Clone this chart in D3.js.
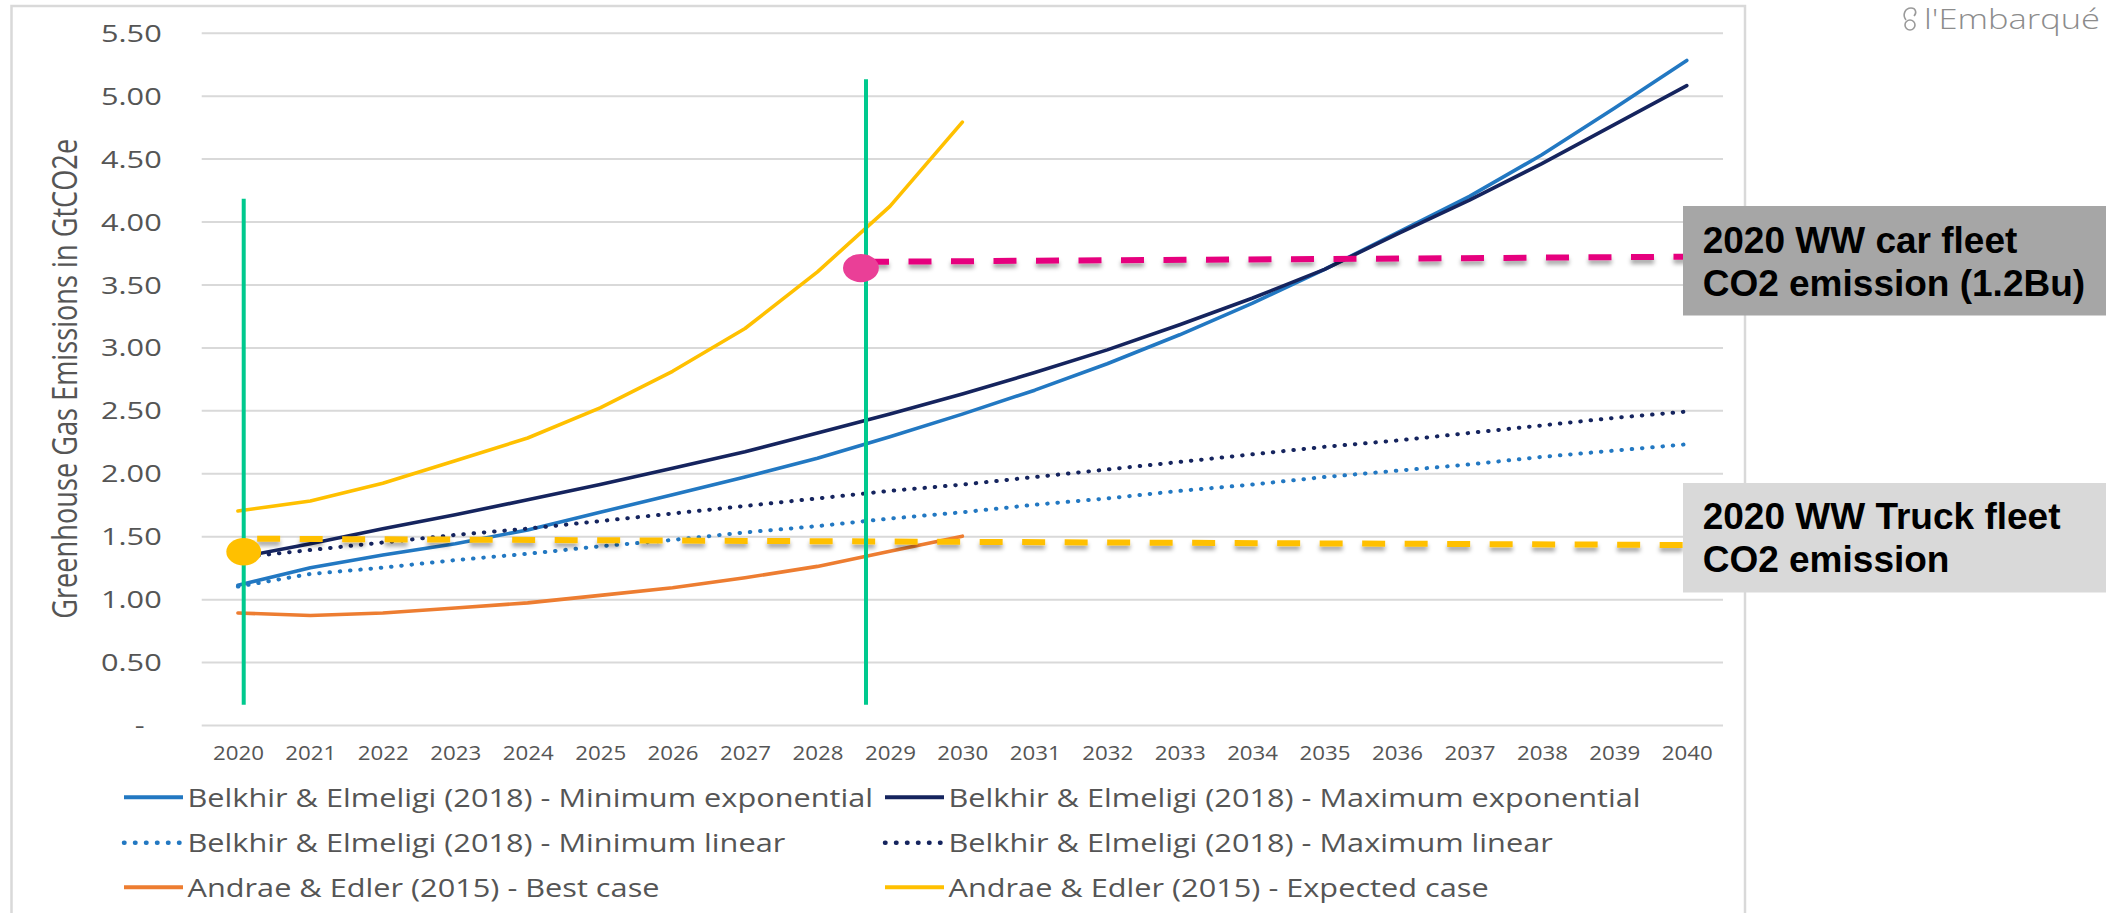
<!DOCTYPE html>
<html>
<head>
<meta charset="utf-8">
<script src="https://cdn.jsdelivr.net/npm/d3@7"></script>
<style>
  html, body { margin: 0; padding: 0; background: #fff; overflow: hidden; }
</style>
</head>
<body>
<svg id="chart" width="2106" height="913"></svg>
<script>
// ---- Data -------------------------------------------------------------
const years = [2020, 2021, 2022, 2023, 2024, 2025, 2026, 2027, 2028, 2029, 2030,
               2031, 2032, 2033, 2034, 2035, 2036, 2037, 2038, 2039, 2040];
const andraeYears = [2020, 2021, 2022, 2023, 2024, 2025, 2026, 2027, 2028, 2029, 2030];

const minExponential = [1.11, 1.25, 1.35, 1.44, 1.55, 1.69, 1.83, 1.97, 2.12, 2.29, 2.47,
                        2.66, 2.87, 3.10, 3.35, 3.62, 3.91, 4.20, 4.53, 4.90, 5.28];
const maxExponential = [1.33, 1.44, 1.56, 1.67, 1.79, 1.91, 2.04, 2.17, 2.32, 2.47, 2.63,
                        2.80, 2.98, 3.18, 3.39, 3.62, 3.90, 4.17, 4.46, 4.77, 5.08];
const minLinear      = [1.10, 1.20, 1.25, 1.31, 1.36, 1.42, 1.47, 1.53, 1.58, 1.64, 1.69,
                        1.75, 1.80, 1.86, 1.91, 1.97, 2.02, 2.07, 2.13, 2.18, 2.23];
const maxLinear      = [1.33, 1.39, 1.45, 1.51, 1.56, 1.62, 1.68, 1.74, 1.80, 1.86, 1.91,
                        1.97, 2.03, 2.09, 2.15, 2.21, 2.26, 2.32, 2.38, 2.44, 2.49];
const bestCase       = [0.89, 0.87, 0.89, 0.93, 0.97, 1.03, 1.09, 1.17, 1.26, 1.38, 1.50];
const expectedCase   = [1.70, 1.78, 1.92, 2.10, 2.28, 2.52, 2.81, 3.15, 3.60, 4.12, 4.79];

const seriesNames = [
  "Belkhir & Elmeligi (2018) - Minimum exponential",
  "Belkhir & Elmeligi (2018) - Maximum exponential",
  "Belkhir & Elmeligi (2018) - Minimum linear",
  "Belkhir & Elmeligi (2018) - Maximum linear",
  "Andrae & Edler (2015) - Best case",
  "Andrae & Edler (2015) - Expected case"
];

const yTicks = [0, 0.5, 1, 1.5, 2, 2.5, 3, 3.5, 4, 4.5, 5, 5.5];
const yTitle = "Greenhouse Gas Emissions in GtCO2e";

// Reference guides: fleet emissions (start / end values of the dashed guide)
const carFleetGuide   = [3.68, 3.72];
const truckFleetGuide = [1.48, 1.43];
const carFleetDot   = { year: 2028.6,  value: 3.63 };
const truckFleetDot = { year: 2020.08, value: 1.376 };
const markerYears  = [2020.08, 2028.67];
const markerTops   = [4.18, 5.13];
const markerBottom = 0.16;

const carLabel   = ["2020 WW car fleet", "CO2 emission (1.2Bu)"];
const truckLabel = ["2020 WW Truck fleet", "CO2 emission"];
const brand = "l'Embarqué";

// ---- Styles -----------------------------------------------------------
const FONT = "'Open Sans', 'Noto Sans', 'DejaVu Sans', sans-serif";
const TEXT_GREY = "#555555";
const GRID = "#d9d9d9";
const styles = [
  { color: "#2278c2", dash: null },
  { color: "#15245e", dash: null },
  { color: "#2278c2", dash: "0.5 9.8" },
  { color: "#15245e", dash: "0.5 9.8" },
  { color: "#ed7d31", dash: null },
  { color: "#ffc000", dash: null }
];

const series = [
  { xs: years, ys: minExponential },
  { xs: years, ys: maxExponential },
  { xs: years, ys: minLinear },
  { xs: years, ys: maxLinear },
  { xs: andraeYears, ys: bestCase },
  { xs: andraeYears, ys: expectedCase }
].map((s, i) => ({
  name: seriesNames[i],
  style: styles[i],
  points: s.xs.map((yr, j) => ({ year: yr, value: s.ys[j] }))
}));

// ---- Layout -----------------------------------------------------------
const svg = d3.select("#chart");
const plotLeft = 201.7, plotRight = 1723, plotTop = 32.7, plotBottom = 725;

const x = d3.scaleLinear().domain([2019.5, 2040.5]).range([plotLeft, plotRight]);
const y = d3.scaleLinear().domain([0, 5.5]).range([plotBottom, plotTop]);

const defs = svg.append("defs");
const shadow = defs.append("filter").attr("id", "dashShadow")
  .attr("x", "-5%").attr("y", "-200%").attr("width", "110%").attr("height", "500%");
shadow.append("feDropShadow").attr("dx", 0).attr("dy", 4).attr("stdDeviation", 2)
  .attr("flood-color", "#000").attr("flood-opacity", 0.35);

// chart-area frame
svg.append("rect")
  .attr("x", 11.5).attr("y", 6).attr("width", 1745 - 11.5).attr("height", 960)
  .attr("fill", "#fff").attr("stroke", "#d9d9d9").attr("stroke-width", 2.5);

// horizontal scale factor that widens a text node to a target width
function widthScale(node, target) {
  const w = node.getComputedTextLength();
  return w > 0 ? target / w : 1;
}

// ---- Y axis with gridlines -------------------------------------------
const yAxis = d3.axisLeft(y)
  .tickValues(yTicks)
  .tickSize(-(plotRight - plotLeft))
  .tickPadding(0)
  .tickFormat(d => d === 0 ? "-" : d3.format(".2f")(d));

const gy = svg.append("g").attr("transform", `translate(${plotLeft},0)`).call(yAxis);
gy.select(".domain").remove();
gy.selectAll(".tick line").attr("stroke", GRID).attr("stroke-width", 2);
const yText = gy.selectAll(".tick text")
  .attr("font-family", FONT).attr("font-size", 24).attr("font-weight", 500).attr("fill", TEXT_GREY)
  .attr("x", 0).attr("dy", null).attr("text-anchor", "end");
const ySx = widthScale(gy.select(".tick:last-of-type text").node(), 60.7);
yText.attr("transform", d => d === 0
    ? `translate(-57,8.6) scale(${ySx},1)`
    : `translate(-40,8.6) scale(${ySx},1)`);

// ---- X axis -------------------------------------------------------------
const xAxis = d3.axisBottom(x).tickValues(years).tickSize(0).tickPadding(0)
  .tickFormat(d3.format("d"));
const gx = svg.append("g").attr("transform", `translate(0,${plotBottom})`).call(xAxis);
gx.select(".domain").remove();
const xText = gx.selectAll(".tick text")
  .attr("font-family", FONT).attr("font-size", 19.6).attr("font-weight", 500).attr("fill", TEXT_GREY)
  .attr("y", 0).attr("dy", null);
const xSx = widthScale(xText.node(), 51);
xText.attr("transform", `translate(0,35) scale(${xSx},1)`);

// ---- Axis title -------------------------------------------------------
svg.append("text")
  .attr("transform", `translate(77,${(plotTop + plotBottom) / 2}) rotate(-90) scale(1,1.4)`)
  .attr("text-anchor", "middle")
  .attr("font-family", FONT).attr("font-size", 25).attr("font-weight", 500).attr("fill", TEXT_GREY)
  .attr("textLength", 480).attr("lengthAdjust", "spacingAndGlyphs")
  .text(yTitle);

// ---- Series ------------------------------------------------------------
const line = d3.line().x(d => x(d.year)).y(d => y(d.value));
svg.append("g").selectAll("path").data(series).join("path")
  .attr("d", d => line(d.points))
  .attr("fill", "none")
  .attr("stroke", d => d.style.color)
  .attr("stroke-width", d => d.style.dash ? 4 : 3.6)
  .attr("stroke-dasharray", d => d.style.dash)
  .attr("stroke-linecap", "round")
  .attr("stroke-linejoin", "round");

// ---- Legend ------------------------------------------------------------
const legendCols = [124, 885];
const legendRows = [797.3, 842.7, 887.3];
const legend = svg.append("g");
const items = legend.selectAll("g").data(series).join("g")
  .attr("transform", (d, i) => `translate(${legendCols[i % 2]},${legendRows[Math.floor(i / 2)]})`);
items.append("line")
  .attr("x1", 0).attr("x2", d => d.style.dash ? 56 : 59).attr("y1", 0).attr("y2", 0)
  .attr("stroke", d => d.style.color)
  .attr("stroke-width", d => d.style.dash ? 4.5 : 4)
  .attr("stroke-linecap", d => d.style.dash ? "round" : "butt")
  .attr("stroke-dasharray", d => d.style.dash ? "0.5 10.5" : null);
const legendText = items.append("text")
  .attr("font-family", FONT).attr("font-size", 25.6).attr("font-weight", 500).attr("fill", TEXT_GREY)
  .text(d => d.name);
const lSx = widthScale(legendText.node(), 685.5);
legendText.attr("transform", `translate(63.5,9.3) scale(${lSx},1)`);

// ---- Fleet guides -----------------------------------------------------
const guides = svg.append("g").attr("filter", "url(#dashShadow)");
guides.append("line")
  .attr("x1", x(markerYears[1])).attr("y1", y(carFleetGuide[0]))
  .attr("x2", x(2040)).attr("y2", y(carFleetGuide[1]))
  .attr("stroke", "#e6007e").attr("stroke-width", 6).attr("stroke-dasharray", "23 19.5");
guides.append("line")
  .attr("x1", x(2020.1)).attr("y1", y(truckFleetGuide[0]))
  .attr("x2", x(2040)).attr("y2", y(truckFleetGuide[1]))
  .attr("stroke", "#ffc000").attr("stroke-width", 6).attr("stroke-dasharray", "23 19.5")
  .attr("stroke-dashoffset", -12);

// vertical year markers
svg.append("g").selectAll("line").data(markerYears).join("line")
  .attr("x1", d => x(d)).attr("x2", d => x(d))
  .attr("y1", (d, i) => y(markerTops[i])).attr("y2", y(markerBottom))
  .attr("stroke", "#00c98e").attr("stroke-width", 4);

// fleet dots
svg.append("ellipse")
  .attr("cx", x(truckFleetDot.year)).attr("cy", y(truckFleetDot.value))
  .attr("rx", 17.4).attr("ry", 13.8).attr("fill", "#ffc000");
svg.append("ellipse")
  .attr("cx", x(carFleetDot.year)).attr("cy", y(carFleetDot.value))
  .attr("rx", 17.9).attr("ry", 14.2).attr("fill", "#ea3f97");

// ---- Annotation boxes ------------------------------------------------
function noteBox(top, fill, lines, baselines) {
  const g = svg.append("g");
  g.append("rect").attr("x", 1683).attr("y", top).attr("width", 2106 - 1683).attr("height", 109.5)
    .attr("fill", fill);
  g.selectAll("text").data(lines).join("text")
    .attr("x", 1702.7).attr("y", (d, i) => baselines[i])
    .attr("font-family", "'Liberation Sans', Arial, sans-serif")
    .attr("font-weight", "bold").attr("font-size", 37).attr("fill", "#000")
    .text(d => d);
}
noteBox(206, "#a6a6a6", carLabel, [252.7, 296]);
noteBox(483, "#d9d9d9", truckLabel, [529.3, 571.7]);

// ---- Brand mark ---------------------------------------------------------
const brandG = svg.append("g").attr("fill", "none").attr("stroke", "#9a9a9a").attr("stroke-width", 1.6);
brandG.append("circle").attr("cx", 1910).attr("cy", 25).attr("r", 5);
brandG.append("path").attr("d", "M1906,20 C1902,15 1905,8 1911,8 C1916,8 1917,13 1914,16");
svg.append("text")
  .attr("x", 2100).attr("y", 29).attr("text-anchor", "end")
  .attr("font-family", FONT).attr("font-weight", 300).attr("font-size", 27)
  .attr("fill", "#8c8c8c")
  .attr("textLength", 176).attr("lengthAdjust", "spacingAndGlyphs")
  .text(brand);
</script>
</body>
</html>
